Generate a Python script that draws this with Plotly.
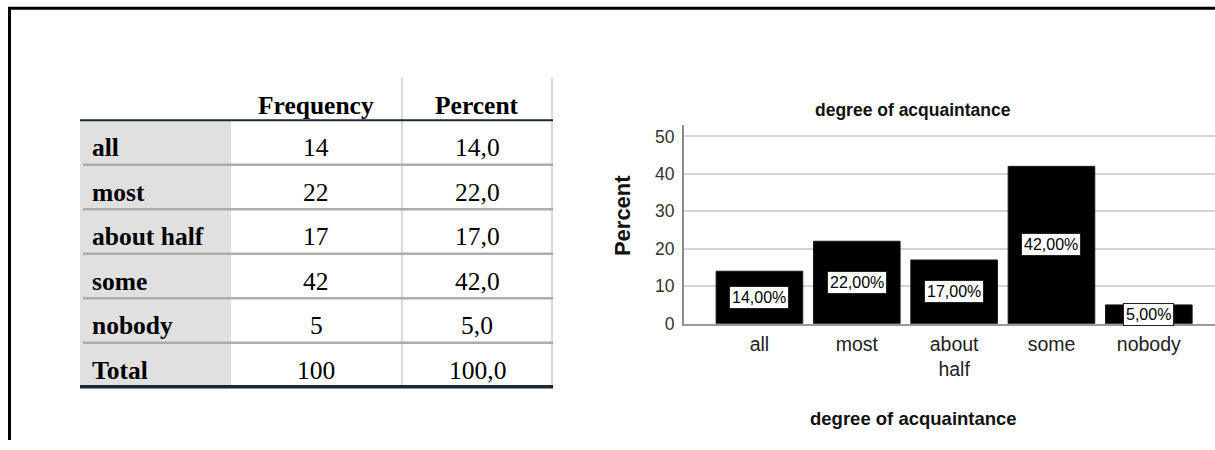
import plotly.graph_objects as go

# Frequency table data for "degree of acquaintance"
categories = ["all", "most", "about half", "some", "nobody"]
frequency = [14, 22, 17, 42, 5]
percent = [14.0, 22.0, 17.0, 42.0, 5.0]
axis_labels = ["all", "most", "about<br>half", "some", "nobody"]
y_ticks = [0, 10, 20, 30, 40, 50]
table_headers = ["Frequency", "Percent"]

total_frequency = sum(frequency)
total_percent = sum(percent)

W, H = 1215, 450


def px(x):
    return x / W


def py(y):
    return 1 - y / H


def comma(v, digits):
    return f"{v:.{digits}f}".replace(".", ",")


SERIF = "Liberation Serif, Times New Roman, serif"
SANS = "Liberation Sans, Arial, sans-serif"

fig = go.Figure()

# Bar chart of percentages
xs = list(range(len(categories)))
fig.add_trace(go.Bar(
    x=xs, y=percent, width=0.89,
    marker=dict(color="#000000", line=dict(color="#1a1a1a", width=1)),
    hoverinfo="skip", showlegend=False,
))

# Value labels in white boxes, centred on each bar
annotations = []
for i, v in enumerate(percent):
    annotations.append(dict(
        x=i, y=v / 2, xref="x", yref="y", showarrow=False,
        xanchor="center", yanchor="middle",
        text=comma(v, 2) + "%",
        font=dict(family=SANS, size=16, color="#000000"),
        bgcolor="#ffffff", bordercolor="#222222", borderwidth=1, borderpad=2,
    ))


def paper_text(x, y, text, font, **kw):
    d = dict(x=px(x), y=py(y), xref="paper", yref="paper", text=text,
             showarrow=False, xanchor="center", yanchor="middle", font=font)
    d.update(kw)
    annotations.append(d)


# Chart titles
paper_text(913, 113, "<b>degree of acquaintance</b>",
           dict(family=SANS, size=17.5, color="#111111"))
paper_text(913, 428, "<b>degree of acquaintance</b>",
           dict(family=SANS, size=18.5, color="#111111"))
paper_text(622, 221, "<b>Percent</b>",
           dict(family=SANS, size=22, color="#111111"), textangle=-90)

# Frequency table
col_freq_x, col_pct_x = 316, 477
header_y = 108
row_top, row_h = 123, 45.5
table_font = dict(family=SERIF, size=25.5, color="#000000")
for name, cx in zip(table_headers, [col_freq_x, col_pct_x]):
    paper_text(cx, header_y, f"<b>{name}</b>", table_font)

row_labels = categories + ["Total"]
row_freq = frequency + [total_frequency]
row_pct = percent + [total_percent]
for i, (lab, f, p) in enumerate(zip(row_labels, row_freq, row_pct)):
    cy = row_top + row_h * i + 28
    paper_text(90, cy, f"<b>{lab}</b>", table_font, xanchor="left")
    paper_text(col_freq_x, cy, str(f), table_font)
    paper_text(col_pct_x, cy, comma(p, 1), table_font)

shapes = []


def hline(y, x0, x1, color, width, layer="above"):
    shapes.append(dict(type="line", xref="paper", yref="paper",
                       x0=px(x0), x1=px(x1), y0=py(y), y1=py(y),
                       line=dict(color=color, width=width), layer=layer))


def vline(x, y0, y1, color, width, layer="above"):
    shapes.append(dict(type="line", xref="paper", yref="paper",
                       x0=px(x), x1=px(x), y0=py(y0), y1=py(y1),
                       line=dict(color=color, width=width), layer=layer))


# Outer frame (top and left edges)
hline(8.5, 8, W, "#000000", 3)
vline(9.5, 8, H, "#000000", 3)

# Table body
shapes.append(dict(type="rect", xref="paper", yref="paper",
                   x0=px(80), x1=px(231), y0=py(123), y1=py(394),
                   fillcolor="#e0e0e0", line=dict(width=0), layer="below"))
vline(402, 79, 394, "#dcdcdc", 2.5)
vline(552, 79, 394, "#dcdcdc", 2.5)
for k in range(1, len(row_labels)):
    hline(row_top + row_h * k, 83, 553, "#acacac", 2.5)
hline(123, 80, 553, "#1c2833", 2)
hline(395.5, 80, 553, "#1c2833", 3.5)

fig.update_layout(
    width=W, height=H,
    margin=dict(l=0, r=0, t=0, b=0),
    paper_bgcolor="#ffffff", plot_bgcolor="#ffffff",
    annotations=annotations, shapes=shapes,
    bargap=0.11,
    xaxis=dict(
        domain=[px(684), 1.0], range=[-0.775, 4.68],
        tickvals=xs, ticktext=axis_labels, ticks="",
        tickfont=dict(family=SANS, size=19.5, color="#222222"),
        showline=True, linecolor="#999999", linewidth=2,
        showgrid=False, zeroline=False, fixedrange=True,
        ticklabelstandoff=2,
    ),
    yaxis=dict(
        domain=[py(331), py(128)], range=[0, 53],
        tickvals=y_ticks, ticks="",
        tickfont=dict(family=SANS, size=17.5, color="#333333"),
        showline=True, linecolor="#8c8c8c", linewidth=2,
        showgrid=True, gridcolor="#d4d4d4", gridwidth=2,
        zeroline=False, fixedrange=True,
        ticklabelstandoff=4,
    ),
)

fig.write_html("out.html")
